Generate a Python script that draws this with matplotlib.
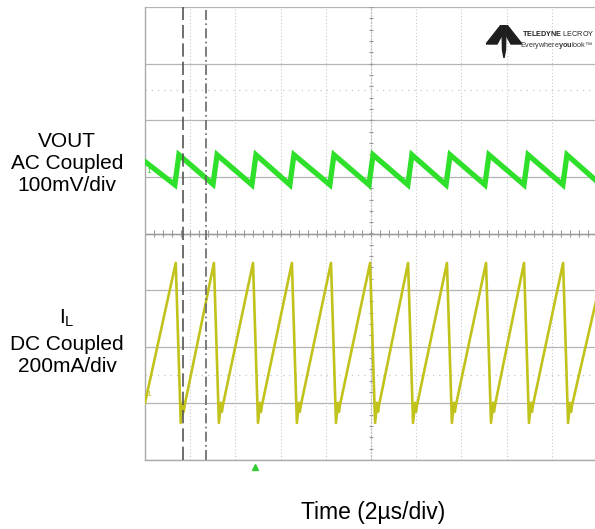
import matplotlib
matplotlib.use('Agg')
import matplotlib.pyplot as plt
import numpy as np
from matplotlib.patches import Polygon

plt.rcParams['font.family'] = ['Liberation Sans', 'DejaVu Sans']
plt.rcParams['mathtext.fontset'] = 'custom'
plt.rcParams['mathtext.rm'] = 'Liberation Sans'
plt.rcParams['mathtext.it'] = 'Liberation Sans'
plt.rcParams['mathtext.bf'] = 'Liberation Sans:bold'

# screen: 10 div x 2us, 8 div vertical
# VOUT, AC coupled, mV (100 mV/div), offset of channel marker in div
vout_t = [0.00, 1.32, 1.50, 3.01, 3.19, 4.73, 4.91, 6.41, 6.59, 8.18, 8.36,
          9.91, 10.09, 11.63, 11.81, 13.32, 13.50, 15.04, 15.22, 16.77, 16.95,
          18.49, 18.67, 20.00]
vout_mv = [18, -23, 30, -22, 30, -23, 30, -23, 30, -23, 30,
           -23, 30, -23, 30, -23, 30, -23, 30, -23, 30,
           -23, 30, -17]
vout_offset = 1.09

# IL, DC coupled, mA (200 mA/div)
il_t = [0.00,
        1.36, 1.58, 1.67, 1.71, 1.76,
        3.05, 3.27, 3.36, 3.40, 3.45,
        4.78, 5.00, 5.09, 5.13, 5.18,
        6.50, 6.72, 6.81, 6.85, 6.90,
        8.23, 8.45, 8.54, 8.58, 8.63,
        9.96, 10.18, 10.27, 10.31, 10.36,
        11.64, 11.86, 11.95, 11.99, 12.04,
        13.36, 13.58, 13.67, 13.71, 13.76,
        15.09, 15.31, 15.40, 15.44, 15.49,
        16.77, 16.99, 17.08, 17.12, 17.17,
        18.50, 18.72, 18.81, 18.85, 18.90,
        20.00]
il_ma = [-28,
         466, -99, -28, -60, -35,
         466, -99, -28, -60, -35,
         466, -99, -28, -60, -35,
         466, -99, -28, -60, -35,
         466, -99, -28, -60, -35,
         466, -99, -28, -60, -35,
         466, -99, -28, -60, -35,
         466, -99, -28, -60, -35,
         466, -99, -28, -60, -35,
         466, -99, -28, -60, -35,
         466, -99, -28, -60, -35,
         346]
il_offset = -2.85

cursor_t = [1.69, 2.70]
trigger_t = 4.87
ref_lines = [2.54, -2.50]

green = '#2fe02a'
yellow = '#c2c21c'
gridc = '#b4b4b4'

fig = plt.figure(figsize=(5.95, 5.29), dpi=100)
ax = fig.add_axes([145/595, 1 - 460/529, 452/595, 453/529])
ax.set_xlim(0, 20)
ax.set_ylim(-4, 4)

# grid
for yv in range(-4, 5):
    ax.axhline(yv, color=gridc, lw=0.9, zorder=1)
for xv in range(2, 20, 2):
    ax.axvline(xv, color='#c8c8c8', lw=0.8, ls=(0, (1, 2)), zorder=1)
for yv in ref_lines:
    ax.axhline(yv, color='#c8c8c8', lw=0.9, ls=(0, (1, 4)), zorder=1)
ax.axhline(0, color='#999999', lw=1.0, zorder=1)
ax.axvline(10, color='#bbbbbb', lw=0.8, ls=(0, (2, 1)), zorder=1)
tx = np.arange(0, 20.01, 0.4)
ax.vlines(tx, -0.06, 0.06, color='#999999', lw=0.8, zorder=1)
ty = np.arange(-4, 4.01, 0.2)
ax.hlines(ty, 9.9, 10.1, color='#999999', lw=0.8, zorder=1)

for s in ['top', 'right']:
    ax.spines[s].set_visible(False)
for s in ['left', 'bottom']:
    ax.spines[s].set_color('#aaaaaa')
    ax.spines[s].set_linewidth(1.0)
ax.set_xticks([])
ax.set_yticks([])

# traces
ax.plot(vout_t, np.array(vout_mv) / 100 + vout_offset, color=green, lw=3.8,
        solid_joinstyle='miter', zorder=3)
ax.plot(il_t, np.array(il_ma) / 200 + il_offset, color=yellow, lw=1.9, zorder=3)

# cursors
ax.axvline(cursor_t[0], color='#555555', lw=1.2, ls=(0, (8, 3)), zorder=4)
ax.axvline(cursor_t[1], color='#666666', lw=1.2, ls=(0, (6, 2, 1, 2)), zorder=4)

# channel markers
ax.text(0.05, vout_offset, '1', color=green, fontsize=6, va='center', ha='left')
ax.text(0.05, il_offset, '1', color=yellow, fontsize=6, va='center', ha='left')
ax.plot([trigger_t], [-4.13], marker='^', color='#33cc33', ms=4.5, clip_on=False)

# labels
fig.text(67/595, 1 - 163/529, 'VOUT\nAC Coupled\n100mV/div', ha='center',
         va='center', fontsize=15, linespacing=1.2)
fig.text(67/595, 1 - 318/529, r'I$_\mathrm{L}$', ha='center', va='center',
         fontsize=15)
fig.text(67/595, 1 - 355/529, 'DC Coupled\n200mA/div', ha='center',
         va='center', fontsize=15, linespacing=1.2)
fig.text(373/595, 1 - 512/529, 'Time (2\u00b5s/div)', ha='center',
         va='center', fontsize=16.5)

# logo
lax = fig.add_axes([486/595, 1 - 58/529, 36/595, 33/529])
lax.set_xlim(0, 36)
lax.set_ylim(0, 33)
lax.axis('off')
lax.add_patch(Polygon([[0, 14], [15, 33], [15.5, 22], [11, 14]], closed=True,
                      color='#1e1e1e'))
lax.add_patch(Polygon([[36, 14], [21, 33], [20.5, 22], [25, 14]], closed=True,
                      color='#1e1e1e'))
lax.add_patch(Polygon([[16, 33], [20, 33], [19.5, 8], [18, 0], [16.5, 8]],
                      closed=True, color='#1e1e1e'))
fig.text(594/595, 1 - 33/529, r'$\bf{TELEDYNE}$ LECROY', fontsize=5.2,
         va='center', ha='right', color='#222222')
fig.text(593/595, 1 - 46/529, 'Everywhere$\\bf{you}$look\u2122', fontsize=5.2,
         va='center', ha='right', color='#333333')

fig.savefig('out.png', dpi=100)
